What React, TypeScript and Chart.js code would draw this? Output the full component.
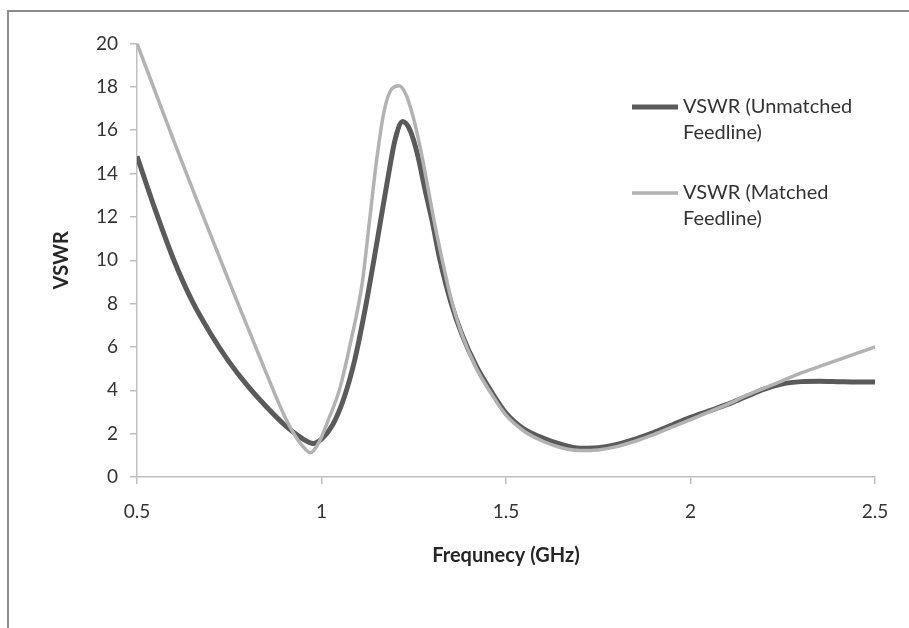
import React, { useEffect, useRef } from "react";
import { Chart, registerables } from "chart.js";

Chart.register(...registerables);

const freqUnmatched = [0.5, 0.55, 0.6, 0.65, 0.7, 0.75, 0.8, 0.85, 0.9, 0.925, 0.95, 0.977, 1.0, 1.03, 1.06, 1.09, 1.12, 1.15, 1.18, 1.2, 1.22, 1.24, 1.26, 1.28, 1.3, 1.32, 1.35, 1.38, 1.42, 1.46, 1.5, 1.55, 1.6, 1.65, 1.7, 1.75, 1.8, 1.85, 1.9, 1.95, 2.0, 2.05, 2.1, 2.15, 2.2, 2.25, 2.3, 2.35, 2.4, 2.45, 2.5];
const vswrUnmatched = [14.8, 12.3, 10.0, 8.1, 6.6, 5.3, 4.2, 3.25, 2.4, 2.05, 1.75, 1.55, 1.75, 2.4, 3.6, 5.4, 7.9, 10.8, 13.8, 15.6, 16.4, 16.0, 14.9, 13.3, 11.8, 10.1, 8.1, 6.6, 5.1, 3.95, 2.95, 2.2, 1.8, 1.5, 1.33, 1.35, 1.5, 1.75, 2.05, 2.4, 2.75, 3.05, 3.35, 3.7, 4.05, 4.3, 4.4, 4.42, 4.4, 4.38, 4.38];

const freqMatched = [0.5, 0.55, 0.6, 0.65, 0.7, 0.75, 0.8, 0.85, 0.9, 0.925, 0.95, 0.97, 0.99, 1.02, 1.05, 1.08, 1.11, 1.13, 1.15, 1.17, 1.19, 1.21, 1.23, 1.25, 1.27, 1.29, 1.31, 1.33, 1.35, 1.38, 1.42, 1.46, 1.5, 1.55, 1.6, 1.65, 1.7, 1.75, 1.8, 1.85, 1.9, 1.95, 2.0, 2.05, 2.1, 2.15, 2.2, 2.25, 2.3, 2.35, 2.4, 2.45, 2.5];
const vswrMatched = [20.0, 17.75, 15.5, 13.3, 11.15, 9.0, 6.9, 4.8, 2.8, 2.0, 1.4, 1.12, 1.5, 2.7, 4.1, 6.3, 8.9, 11.8, 14.7, 16.9, 17.9, 18.05, 17.6, 16.5, 15.0, 13.2, 11.4, 9.8, 8.3, 6.6, 5.0, 3.85, 2.85, 2.1, 1.65, 1.35, 1.22, 1.25, 1.4, 1.65, 1.95, 2.3, 2.65, 3.0, 3.35, 3.75, 4.1, 4.45, 4.8, 5.1, 5.4, 5.7, 6.0];

const seriesLabels = ["VSWR (Unmatched Feedline)", "VSWR (Matched Feedline)"];
const xTitle = "Frequnecy (GHz)";
const yTitle = "VSWR";

const FONT = "Lato, 'Open Sans', sans-serif";

const legendPlugin = {
  id: "customLegend",
  afterDraw(chart: any) {
    const ctx = chart.ctx;
    const x0 = 632;
    const lineLen = 46;
    const tx = 683;
    const tops = [107, 193];
    const lh = 26;
    ctx.save();
    ctx.font = `20px ${FONT}`;
    ctx.textBaseline = "middle";
    ctx.textAlign = "left";
    chart.data.datasets.forEach((ds: any, i: number) => {
      const y = tops[i];
      ctx.strokeStyle = ds.borderColor;
      ctx.lineWidth = ds.borderWidth;
      ctx.beginPath();
      ctx.moveTo(x0, y);
      ctx.lineTo(x0 + lineLen, y);
      ctx.stroke();
      const words = String(ds.label).split(" ");
      const lines: string[] = [];
      let cur = "";
      words.forEach((w) => {
        const test = cur ? cur + " " + w : w;
        if (ctx.measureText(test).width > 200 && cur) {
          lines.push(cur);
          cur = w;
        } else cur = test;
      });
      if (cur) lines.push(cur);
      ctx.fillStyle = "#333333";
      lines.forEach((l, j) => ctx.fillText(l, tx, y + j * lh));
    });
    ctx.restore();
  },
};

export default function App() {
  const ref = useRef<HTMLCanvasElement | null>(null);
  useEffect(() => {
    if (!ref.current) return;
    const chart = new Chart(ref.current, {
      type: "scatter",
      data: {
        datasets: [
          {
            label: seriesLabels[0],
            data: freqUnmatched.map((f, i) => ({ x: f, y: vswrUnmatched[i] })),
            showLine: true,
            borderColor: "#5a5a5a",
            backgroundColor: "#5a5a5a",
            borderWidth: 5,
            pointRadius: 0,
            cubicInterpolationMode: "monotone",
            order: 2,
          },
          {
            label: seriesLabels[1],
            data: freqMatched.map((f, i) => ({ x: f, y: vswrMatched[i] })),
            showLine: true,
            borderColor: "#b2b2b2",
            backgroundColor: "#b2b2b2",
            borderWidth: 3.5,
            pointRadius: 0,
            cubicInterpolationMode: "monotone",
            order: 1,
          },
        ],
      },
      options: {
        responsive: false,
        animation: false,
        layout: { padding: { left: 46, top: 43.5, right: 34, bottom: 56 } },
        plugins: { legend: { display: false }, tooltip: { enabled: false } },
        scales: {
          x: {
            type: "linear",
            min: 0.5,
            max: 2.5,
            afterFit: (s: any) => {
              s.height = 95;
            },
            ticks: {
              stepSize: 0.5,
              color: "#333333",
              font: { family: FONT, size: 19 },
              padding: 16,
              maxRotation: 0,
              callback: (v: any) => String(Number(v)),
            },
            grid: { display: true, drawOnChartArea: false, drawTicks: true, tickLength: 7, color: "#bfbfbf", lineWidth: 1.5 },
            border: { display: true, color: "#bfbfbf", width: 1.5 },
            title: { display: true, text: xTitle, color: "#262626", font: { family: FONT, size: 20, weight: "bold" } },
          },
          y: {
            type: "linear",
            min: 0,
            max: 20,
            afterFit: (s: any) => {
              s.width = 91;
            },
            ticks: {
              stepSize: 2,
              color: "#333333",
              font: { family: FONT, size: 19 },
              padding: 12,
            },
            grid: { display: true, drawOnChartArea: false, drawTicks: true, tickLength: 7, color: "#bfbfbf", lineWidth: 1.5 },
            border: { display: true, color: "#bfbfbf", width: 1.5 },
            title: { display: true, text: yTitle, color: "#262626", font: { family: FONT, size: 20, weight: "bold" } },
          },
        },
      } as any,
      plugins: [legendPlugin],
    });
    return () => chart.destroy();
  }, []);
  return (
    <div style={{ position: "absolute", left: 0, top: 0, width: 909, height: 628, background: "#fff", overflow: "hidden" }}>
      <div
        style={{
          position: "absolute",
          left: 7,
          top: 10,
          width: 920,
          height: 640,
          borderTop: "2px solid #8c8c8c",
          borderLeft: "2px solid #8c8c8c",
          boxSizing: "border-box",
        }}
      />
      <canvas ref={ref} width={909} height={628} style={{ position: "absolute", left: 0, top: 0, width: 909, height: 628 }} />
    </div>
  );
}
